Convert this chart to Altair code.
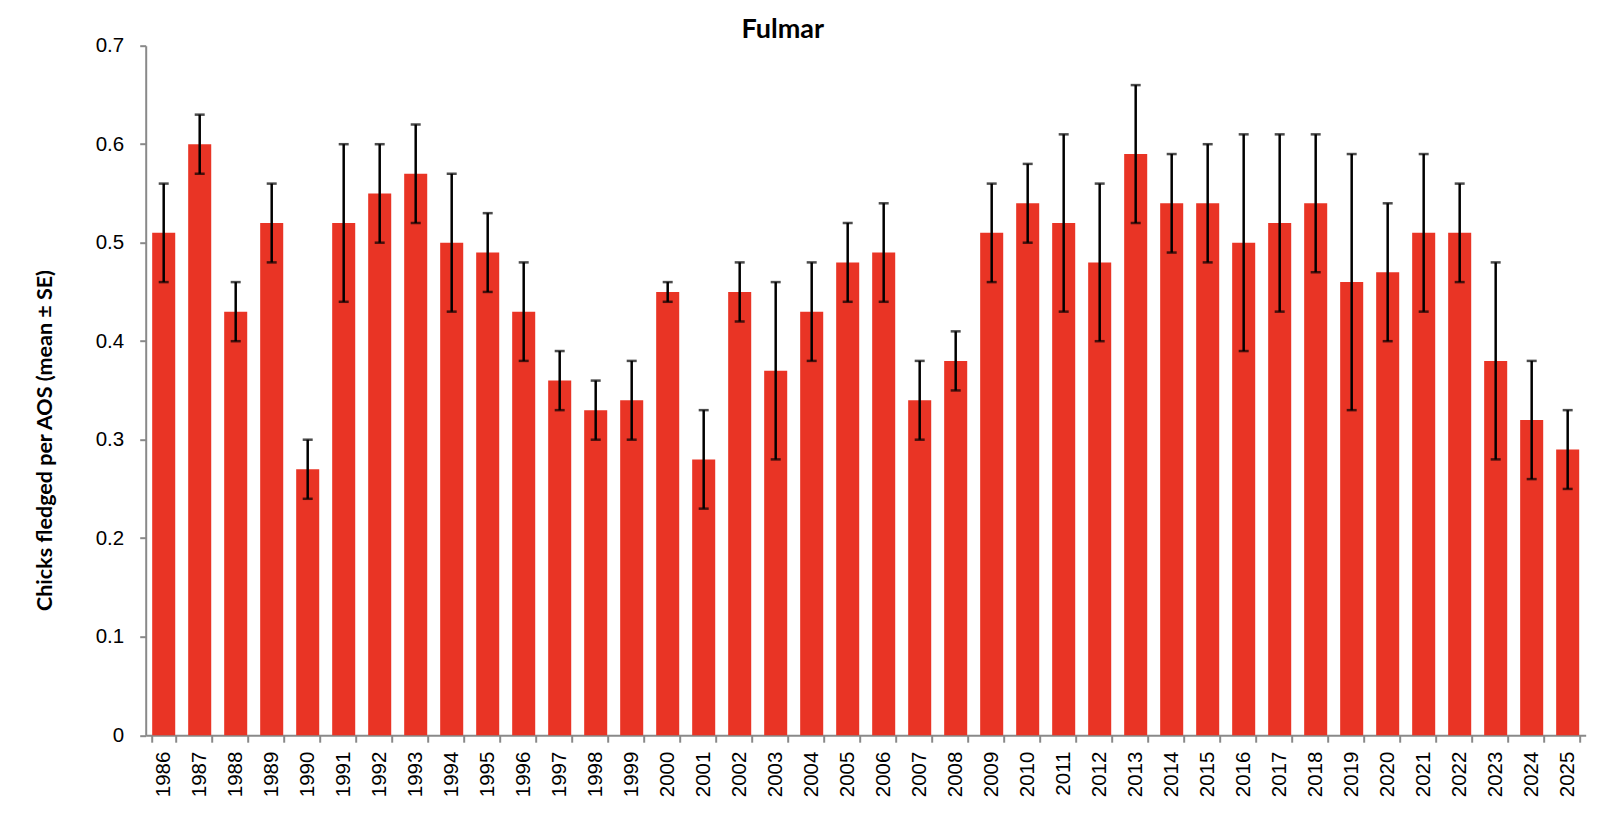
import altair as alt
import pandas as pd

years = [str(y) for y in range(1986, 2026)]
means = [0.51, 0.60, 0.43, 0.52, 0.27, 0.52, 0.55, 0.57, 0.50, 0.49,
         0.43, 0.36, 0.33, 0.34, 0.45, 0.28, 0.45, 0.37, 0.43, 0.48,
         0.49, 0.34, 0.38, 0.51, 0.54, 0.52, 0.48, 0.59, 0.54, 0.54,
         0.50, 0.52, 0.54, 0.46, 0.47, 0.51, 0.51, 0.38, 0.32, 0.29]
lower = [0.46, 0.57, 0.40, 0.48, 0.24, 0.44, 0.50, 0.52, 0.43, 0.45,
         0.38, 0.33, 0.30, 0.30, 0.44, 0.23, 0.42, 0.28, 0.38, 0.44,
         0.44, 0.30, 0.35, 0.46, 0.50, 0.43, 0.40, 0.52, 0.49, 0.48,
         0.39, 0.43, 0.47, 0.33, 0.40, 0.43, 0.46, 0.28, 0.26, 0.25]
upper = [0.56, 0.63, 0.46, 0.56, 0.30, 0.60, 0.60, 0.62, 0.57, 0.53,
         0.48, 0.39, 0.36, 0.38, 0.46, 0.33, 0.48, 0.46, 0.48, 0.52,
         0.54, 0.38, 0.41, 0.56, 0.58, 0.61, 0.56, 0.66, 0.59, 0.60,
         0.61, 0.61, 0.61, 0.59, 0.54, 0.59, 0.56, 0.48, 0.38, 0.33]

df = pd.DataFrame({"year": years, "mean": means, "lo": lower, "hi": upper})

x_enc = alt.X(
    "year:N",
    sort=years,
    scale=alt.Scale(paddingInner=0.36, paddingOuter=0.18),
    axis=alt.Axis(
        title=None,
        labelAngle=-90,
        labelAlign="right",
        labelBaseline="middle",
        labelPadding=9,
        tickBand="extent",
        tickSize=7,
        labelFont="Liberation Sans",
        labelFontSize=20.5,
        labelColor="#000000",
    ),
)

y_scale = alt.Scale(domain=[0, 0.7], nice=False, zero=True)

bars = alt.Chart(df).mark_bar(color="#E93425").encode(
    x=x_enc,
    y=alt.Y(
        "mean:Q",
        scale=y_scale,
        axis=alt.Axis(
            title="Chicks fledged per AOS (mean ± SE)",
            values=[0, 0.1, 0.2, 0.3, 0.4, 0.5, 0.6, 0.7],
            labelExpr="datum.value == 0 ? '0' : format(datum.value, '.1f')",
            tickSize=6,
            labelPadding=16,
            labelFont="Liberation Sans",
            labelFontSize=20.5,
            labelColor="#000000",
            titleFont="Lato",
            titleFontWeight="bold",
            titleFontSize=21.5,
            titleColor="#000000",
            titleAngle=-90,
            titleAlign="center",
            titleBaseline="middle",
            titleX=-100.7,
            titleY=394.3,
            grid=False,
        ),
    ),
)

rules = alt.Chart(df).mark_rule(color="#000000", strokeWidth=2.5).encode(
    x=alt.X("year:N", sort=years),
    y=alt.Y("lo:Q", scale=y_scale),
    y2="hi:Q",
)

caps_lo = alt.Chart(df).mark_tick(color="#000000", size=10, thickness=2.5).encode(
    x=alt.X("year:N", sort=years),
    y=alt.Y("lo:Q", scale=y_scale),
)
caps_hi = alt.Chart(df).mark_tick(color="#000000", size=10, thickness=2.5).encode(
    x=alt.X("year:N", sort=years),
    y=alt.Y("hi:Q", scale=y_scale),
)

chart = (
    alt.layer(bars, rules, caps_lo, caps_hi)
    .properties(
        width=1440,
        height=689.5,
        title=alt.TitleParams(
            text="Fulmar",
            font="Lato",
            fontWeight="bold",
            fontSize=27,
            color="#000000",
            anchor="start",
            align="center",
            dx=637,
            offset=-8,
            frame="group",
        ),
        autosize=alt.AutoSizeParams(type="none"),
        padding={"left": 137.7, "top": 37.7, "right": 14, "bottom": 80},
    )
    .configure_view(stroke=None)
    .configure_axis(
        domainColor="#898989",
        domainWidth=2,
        tickColor="#898989",
        tickWidth=2,
    )
)

chart.save("out.html", embed_options={"renderer": "svg", "actions": False})
